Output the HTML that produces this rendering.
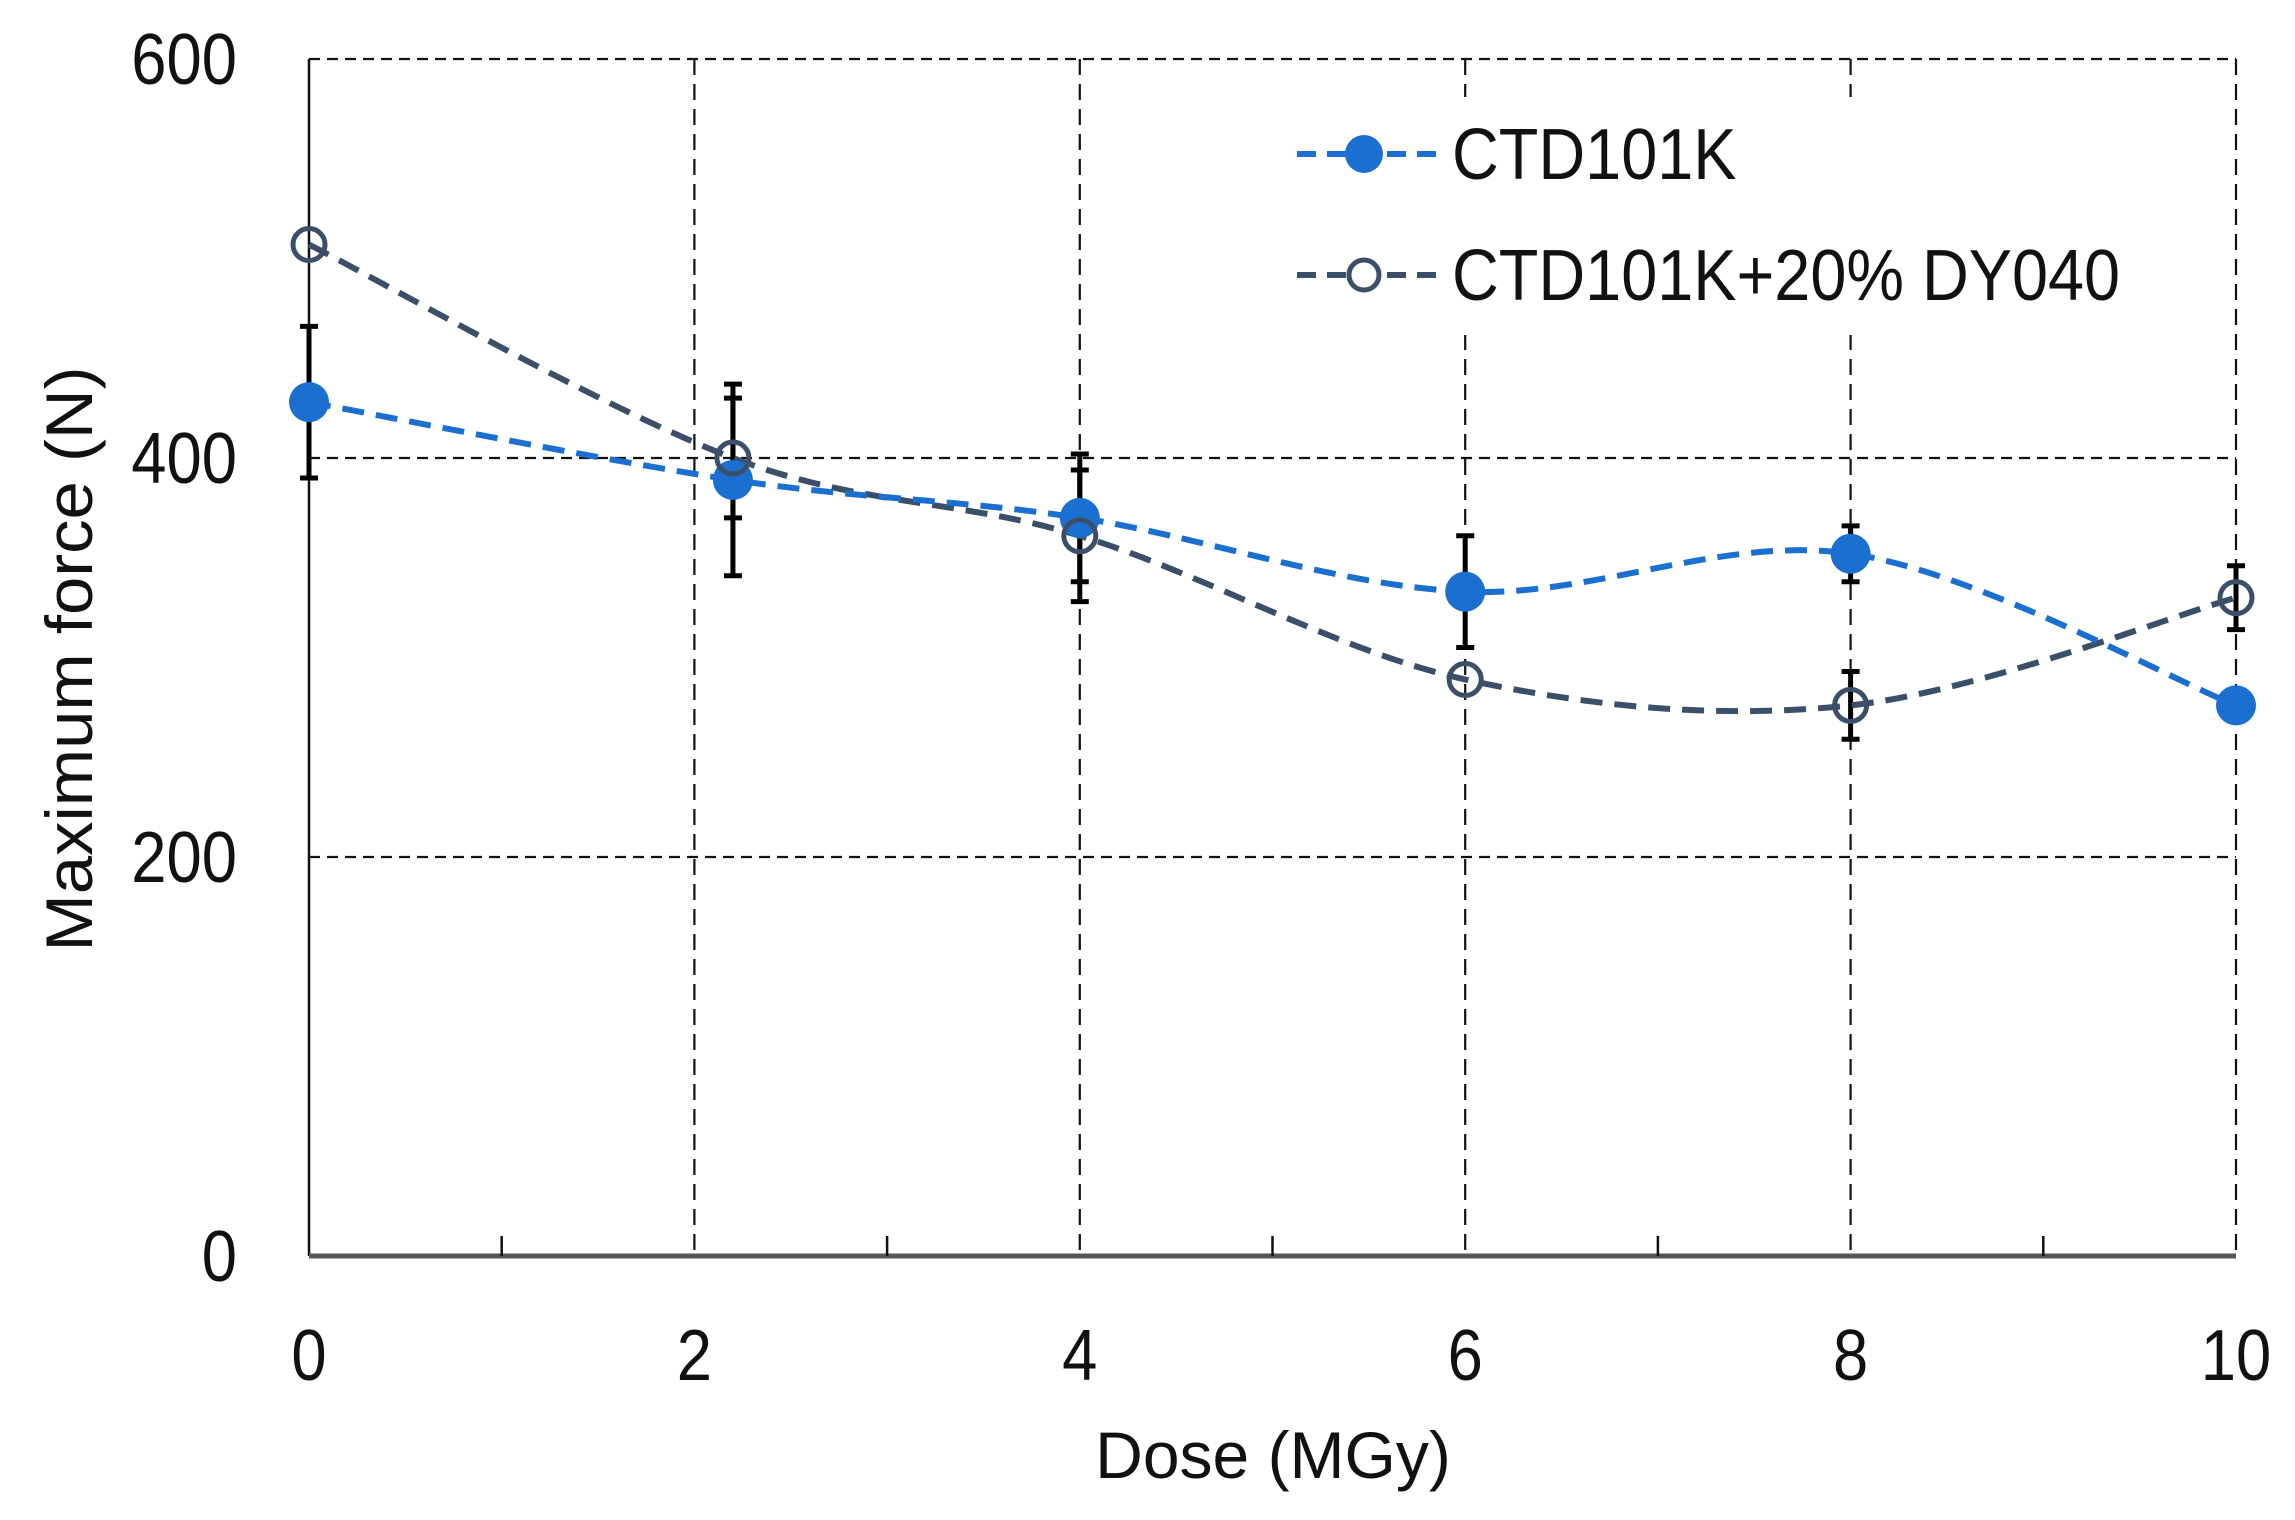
<!DOCTYPE html>
<html><head><meta charset="utf-8"><style>
html,body{margin:0;padding:0;background:#fff;}
svg{display:block;font-family:"Liberation Sans Narrow","Liberation Sans",sans-serif;}
</style></head><body>
<svg id="chart" width="2295" height="1520" viewBox="0 0 2295 1520">
<g id="grid"></g>
<g id="axes"></g>
<g id="series"></g>
<g id="legend"></g>
</svg>
<script>
const xTicks=[0,2,4,6,8,10];
const yTicks=[0,200,400,600];
const xA=[0,2.2,4,6,8,10];
const ctdVals=[428,389,370,333,352,276];
const ctdErr=[38,48,32,28,14,0];
const dyVals=[507,400,361,289,276,330];
const dyErr=[0,30,33,0,17,16];
const seriesNames=["CTD101K","CTD101K+20% DY040"];

const L=309,R=2236,T=59,B=1256;
const X=v=>L+(v-0)/(10-0)*(R-L);
const Y=v=>B-(v-0)/(600-0)*(B-T);
const NS="http://www.w3.org/2000/svg";
function mk(tag,attrs,parent){const e=document.createElementNS(NS,tag);for(const k in attrs)e.setAttribute(k,attrs[k]);parent.appendChild(e);return e;}
const grid=document.getElementById('grid'),axes=document.getElementById('axes'),ser=document.getElementById('series'),leg=document.getElementById('legend');

yTicks.forEach(t=>{if(t===0)return;
 const l=mk('line',{x1:L,x2:R,y1:Y(t),y2:Y(t),stroke:'#111','stroke-width':2.2,'stroke-dasharray':'11,7'},grid);
 
 });
xTicks.forEach(t=>{if(t===0)return;
 const l=mk('line',{x1:X(t),x2:X(t),y1:T,y2:B,stroke:'#111','stroke-width':2.2,'stroke-dasharray':'16,9'},grid);
 
 });
let a=mk('line',{x1:L,x2:L,y1:T,y2:B,stroke:'#111','stroke-width':2.5},axes);


a=mk('line',{x1:L,x2:R,y1:B,y2:B,stroke:'#555','stroke-width':5},axes);


[1,3,5,7,9].forEach(t=>{const m=mk('line',{x1:X(t),x2:X(t),y1:B,y2:B-20,stroke:'#111','stroke-width':2.5},axes);
 
 });
yTicks.forEach(t=>{const e=mk('text',{x:0,y:0,'text-anchor':'end','font-size':72,fill:'#111',transform:'translate(237,'+(Y(t)+25)+') scale(0.88,1)'},axes);e.textContent=t;
 
 });
xTicks.forEach(t=>{const e=mk('text',{x:0,y:0,'text-anchor':'middle','font-size':72,fill:'#111',transform:'translate('+X(t)+',1380) scale(0.88,1)'},axes);e.textContent=t;
 
 });
let tt=mk('text',{x:1273,y:1478,'text-anchor':'middle','font-size':66,fill:'#111'},axes);tt.textContent='Dose (MGy)';


tt=mk('text',{x:0,y:0,'text-anchor':'middle','font-size':66,fill:'#111',transform:'translate(92,659) rotate(-90)',textLength:585,lengthAdjust:'spacingAndGlyphs'},axes);tt.textContent='Maximum force (N)';



function smooth(xs,ys){const p=xs.map((x,i)=>[X(x),Y(ys[i])]);let d='M'+p[0][0]+','+p[0][1];
 for(let i=0;i<p.length-1;i++){const p0=p[Math.max(0,i-1)],p1=p[i],p2=p[i+1],p3=p[Math.min(p.length-1,i+2)];
  const c1=[p1[0]+(p2[0]-p0[0])/6,p1[1]+(p2[1]-p0[1])/6],c2=[p2[0]-(p3[0]-p1[0])/6,p2[1]-(p3[1]-p1[1])/6];
  d+=' C'+c1+' '+c2+' '+p2;}return d;}
function errbars(vals,errs,name){xA.forEach((x,i)=>{if(!errs[i])return;const cx=X(x),y1=Y(vals[i]+errs[i]),y2=Y(vals[i]-errs[i]);
 const g=mk('g',{stroke:'#000','stroke-width':5},ser);
 
 
 mk('line',{x1:cx,x2:cx,y1:y1,y2:y2},g);mk('line',{x1:cx-9,x2:cx+9,y1:y1,y2:y1},g);mk('line',{x1:cx-9,x2:cx+9,y1:y2,y2:y2},g);});}
errbars(ctdVals,ctdErr,'ctd101k');
errbars(dyVals,dyErr,'dy040');
const BLUE='#1a6fd0',SLATE='#3b5068';
let p=mk('path',{d:smooth(xA,dyVals),fill:'none',stroke:SLATE,'stroke-width':6,'stroke-dasharray':'22,12'},ser);


p=mk('path',{d:smooth(xA,ctdVals),fill:'none',stroke:BLUE,'stroke-width':6,'stroke-dasharray':'22,12'},ser);


xA.forEach((x,i)=>{const c=mk('circle',{cx:X(x),cy:Y(ctdVals[i]),r:20,fill:BLUE},ser);
 
 });
xA.forEach((x,i)=>{const c=mk('circle',{cx:X(x),cy:Y(dyVals[i]),r:16,fill:'none',stroke:SLATE,'stroke-width':5},ser);
 
 });

const bg=mk('rect',{x:1275,y:97,width:860,height:238,fill:'#fff'},leg);


[[154,BLUE,true],[275,SLATE,false]].forEach((r,i)=>{
 const g=mk('g',{},leg);
 
 
 mk('line',{x1:1297,x2:1440,y1:r[0],y2:r[0],stroke:r[1],'stroke-width':6,'stroke-dasharray':'19,11'},g);
 if(r[2])mk('circle',{cx:1364,cy:r[0],r:19,fill:r[1]},g);
 else mk('circle',{cx:1364,cy:r[0],r:15,fill:'#fff',stroke:r[1],'stroke-width':5},g);
 const t=mk('text',{x:0,y:0,'font-size':72,fill:'#111',transform:'translate(1452,'+(r[0]+25)+') scale(0.9,1)'},g);t.textContent=seriesNames[i];
});
</script>
</body></html>
